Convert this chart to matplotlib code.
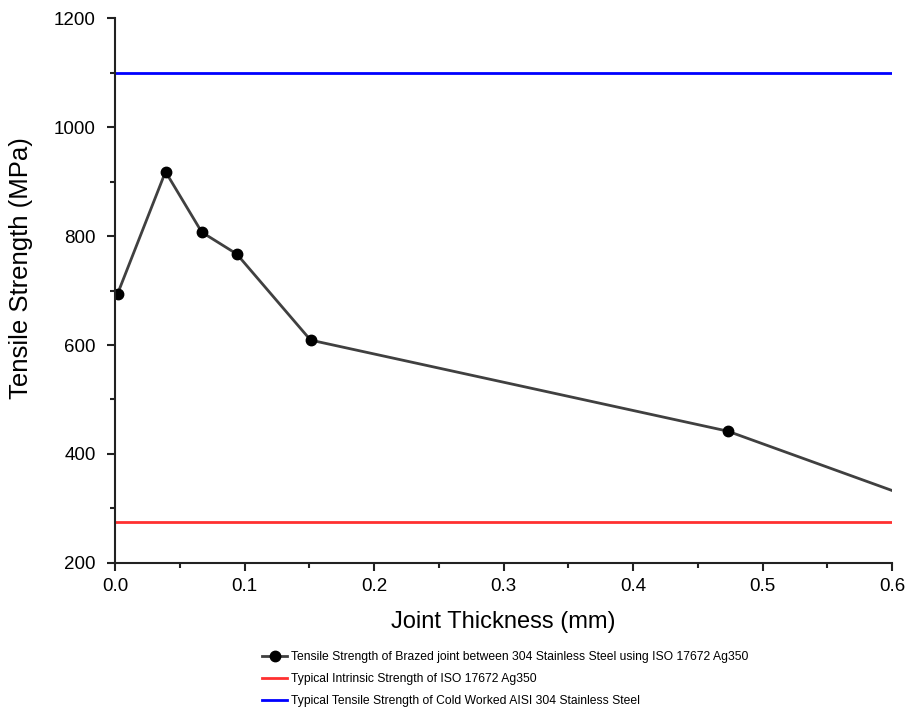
import matplotlib
matplotlib.use('Agg')
import matplotlib.pyplot as plt
from matplotlib.ticker import MultipleLocator

plt.rcParams['font.family'] = ['Liberation Sans', 'DejaVu Sans']

# joint thickness (mm) vs tensile strength (MPa)
thickness = [0.002, 0.039, 0.067, 0.094, 0.151, 0.473, 0.6]
strength = [694, 918, 807, 767, 609, 442, 333]
filler_strength = 275
steel_strength = 1100

fig = plt.figure(figsize=(9.07, 7.07), dpi=100)
ax = fig.add_axes([0.1268, 0.2037, 0.8567, 0.7708])

ax.plot(thickness, strength, color='#404040', lw=2, marker='o', markersize=7.5,
        markerfacecolor='black', markeredgecolor='black',
        markevery=list(range(len(thickness) - 1)),
        label='Tensile Strength of Brazed joint between 304 Stainless Steel using ISO 17672 Ag350')
ax.plot([0, 0.6], [filler_strength] * 2, color='#ff3030', lw=2,
        label='Typical Intrinsic Strength of ISO 17672 Ag350')
ax.plot([0, 0.6], [steel_strength] * 2, color='#0000ff', lw=2,
        label='Typical Tensile Strength of Cold Worked AISI 304 Stainless Steel')

ax.set_xlim(0, 0.6)
ax.set_ylim(200, 1200)
ax.xaxis.set_major_locator(MultipleLocator(0.1))
ax.xaxis.set_minor_locator(MultipleLocator(0.05))
ax.yaxis.set_major_locator(MultipleLocator(200))
ax.yaxis.set_minor_locator(MultipleLocator(100))
ax.xaxis.set_major_formatter(plt.FormatStrFormatter('%.1f'))

for side in ['top', 'right']:
    ax.spines[side].set_visible(False)
for side in ['left', 'bottom']:
    ax.spines[side].set_linewidth(1.5)
    ax.spines[side].set_color('#222222')

ax.tick_params(which='major', direction='out', length=6, width=1.5, labelsize=13.5,
               colors='#222222', pad=5)
ax.tick_params(which='minor', direction='out', length=3.5, width=1.5, colors='#222222')
ax.tick_params(axis='y', which='major', pad=8)
ax.tick_params(labelcolor='black')

ax.set_xlabel('Joint Thickness (mm)', fontsize=17, labelpad=11)
ax.set_ylabel('Tensile Strength (MPa)', fontsize=18.5)
ax.yaxis.set_label_coords(-0.106, 0.541)

fig.legend(loc='upper left', bbox_to_anchor=(0.289, 0.079), frameon=False,
           fontsize=8.7, handlelength=2.1, handletextpad=0.3, labelspacing=0.82,
           borderpad=0, borderaxespad=0)

fig.savefig('out.png', dpi=100)
